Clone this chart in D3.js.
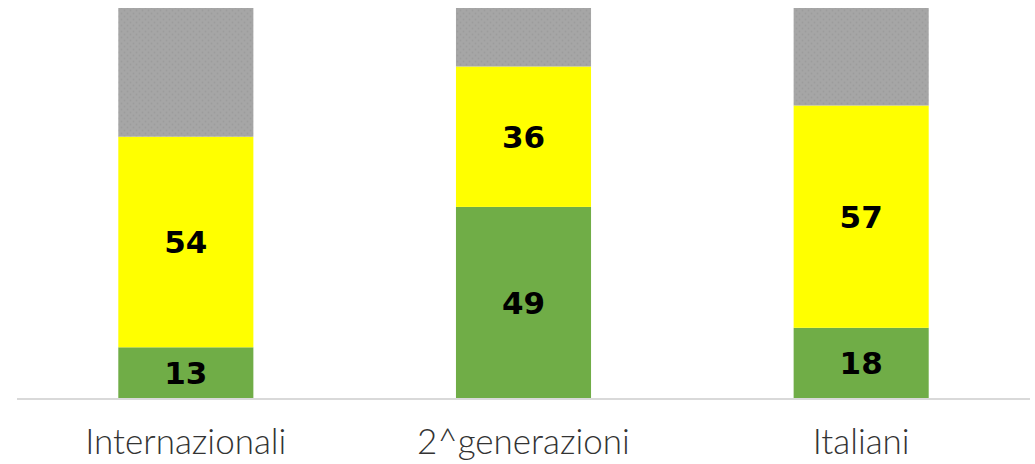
<!DOCTYPE html>
<html>
<head>
<meta charset="utf-8">
<script src="https://cdn.jsdelivr.net/npm/d3@7"></script>
<style>
  body { margin: 0; background: #fff; }
  svg { display: block; }
</style>
</head>
<body>
<div id="vis"></div>
<script>
const categories = ["Internazionali", "2^generazioni", "Italiani"];
const greenVals = [13, 49, 18];
const yellowVals = [54, 36, 57];
const grayVals = [33, 15, 25];

const width = 1035;
const height = 464;

const x = d3.scaleBand().domain(categories).range([17, 1030]).padding(0);
const y = d3.scaleLinear().domain([0, 100]).range([398, 8]);
const barW = x.bandwidth() * 0.4;

const svg = d3.select("#vis").append("svg")
  .attr("width", width)
  .attr("height", height);

// dotted texture for the gray segment
const pat = svg.append("defs").append("pattern")
  .attr("id", "dots")
  .attr("width", 6)
  .attr("height", 6)
  .attr("patternUnits", "userSpaceOnUse");
pat.append("rect").attr("width", 6).attr("height", 6).attr("fill", "#a6a6a6");
pat.append("circle").attr("cx", 1.5).attr("cy", 1.5).attr("r", 0.9).attr("fill", "#9c9c9c");
pat.append("circle").attr("cx", 4.5).attr("cy", 4.5).attr("r", 0.9).attr("fill", "#9c9c9c");

const series = [
  { key: "green", vals: greenVals, fill: "#70ad47", label: true },
  { key: "yellow", vals: yellowVals, fill: "#ffff00", label: true },
  { key: "gray", vals: grayVals, fill: "url(#dots)", label: false }
];

// stack them up
const rows = categories.map((c, i) => ({
  cat: c, green: greenVals[i], yellow: yellowVals[i], gray: grayVals[i]
}));
const stacked = d3.stack().keys(series.map(s => s.key))(rows);

stacked.forEach((layer, li) => {
  const s = series[li];
  const g = svg.append("g");
  g.selectAll("rect")
    .data(layer)
    .enter()
    .append("rect")
    .attr("x", d => x(d.data.cat) + x.bandwidth() / 2 - barW / 2)
    .attr("y", d => y(d[1]))
    .attr("width", barW)
    .attr("height", d => y(d[0]) - y(d[1]))
    .attr("fill", s.fill);

  if (s.label) {
    g.selectAll("text")
      .data(layer)
      .enter()
      .append("text")
      .attr("x", d => x(d.data.cat) + x.bandwidth() / 2)
      .attr("y", d => (y(d[0]) + y(d[1])) / 2)
      .attr("dy", "0.37em")
      .attr("text-anchor", "middle")
      .style("font-family", "'DejaVu Sans', sans-serif")
      .style("font-weight", "bold")
      .style("font-size", "31px")
      .attr("fill", "#000")
      .text(d => d[1] - d[0]);
  }
});

// baseline
svg.append("line")
  .attr("x1", 17).attr("x2", 1030)
  .attr("y1", y(0) + 1).attr("y2", y(0) + 1)
  .attr("stroke", "#d9d9d9")
  .attr("stroke-width", 2);

// category labels
svg.append("g").selectAll("text")
  .data(categories)
  .enter()
  .append("text")
  .attr("x", d => x(d) + x.bandwidth() / 2)
  .attr("y", 454)
  .attr("text-anchor", "middle")
  .style("font-family", "'Lato', sans-serif")
  .style("font-weight", 300)
  .style("font-size", "35px")
  .attr("fill", "#333")
  .text(d => d);
</script>
</body>
</html>
